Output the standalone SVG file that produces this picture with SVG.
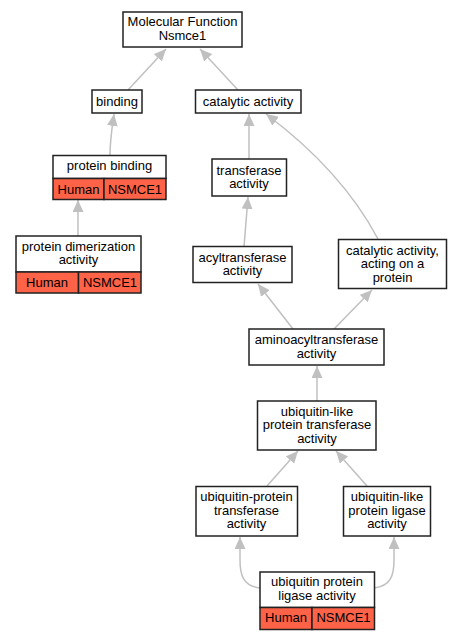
<svg xmlns="http://www.w3.org/2000/svg" width="461" height="640" viewBox="0 0 461 640">
<style>
.box{fill:#fff;stroke:#222;stroke-width:1.5}
.cell{fill:#ff6347;stroke:#222;stroke-width:1.5}
text{font-family:"Liberation Sans",Arial,sans-serif;font-size:13px;fill:#000;text-anchor:middle}
.edge{fill:none;stroke:#c0c0c0;stroke-width:1.5;marker-end:url(#arr)}
</style>
<defs>
<marker id="arr" markerUnits="userSpaceOnUse" markerWidth="13" markerHeight="11" refX="12" refY="5.5" orient="auto" viewBox="0 0 13 11">
<path d="M0,0 L12,5.5 L0,11 z" fill="#c0c0c0"/>
</marker>
</defs>
<rect width="461" height="640" fill="#fff"/>
<g id="edges">
<path class="edge" d="M128,90 L166,49"/>
<path class="edge" d="M238,90 L200,49"/>
<path class="edge" d="M110,155 C110,140 112,128 114,114"/>
<path class="edge" d="M249,159 L249,114"/>
<path class="edge" d="M378,239 C360,205 330,162 266,114"/>
<path class="edge" d="M244,247 L248,197"/>
<path class="edge" d="M78,236 L78,200"/>
<path class="edge" d="M293,329 L258,284"/>
<path class="edge" d="M334,329 L372,290"/>
<path class="edge" d="M317,401 L317,366"/>
<path class="edge" d="M267,486 L298,451"/>
<path class="edge" d="M367,486 L336,451"/>
<path class="edge" d="M260,588 C243,586 240,575 240,560 L240,537"/>
<path class="edge" d="M374,588 C391,586 394,575 394,560 L394,537"/>
</g>
<g id="mf">
<rect class="box" x="123" y="12" width="119" height="35"/>
<text x="182.5" y="26">Molecular Function</text>
<text x="182.5" y="39.5">Nsmce1</text>
</g>
<g id="binding">
<rect class="box" x="92" y="90" width="50" height="23"/>
<text x="117" y="106">binding</text>
</g>
<g id="catalytic">
<rect class="box" x="195.5" y="90" width="105.5" height="23"/>
<text x="248" y="106">catalytic activity</text>
</g>
<g id="protein-binding">
<rect class="box" x="53" y="155.5" width="113" height="23"/>
<rect class="cell" x="53" y="178.5" width="51" height="21"/>
<rect class="cell" x="104" y="178.5" width="62" height="21"/>
<text x="109.5" y="170">protein binding</text>
<text x="78.5" y="193.5">Human</text>
<text x="135" y="193.5">NSMCE1</text>
</g>
<g id="protein-dimerization">
<rect class="box" x="16" y="236" width="125" height="36"/>
<rect class="cell" x="16" y="272" width="62.5" height="21"/>
<rect class="cell" x="78.5" y="272" width="62.5" height="21"/>
<text x="78.5" y="251">protein dimerization</text>
<text x="78.5" y="264">activity</text>
<text x="47" y="286.5">Human</text>
<text x="110" y="286.5">NSMCE1</text>
</g>
<g id="transferase">
<rect class="box" x="212" y="159" width="74.5" height="37"/>
<text x="249" y="175">transferase</text>
<text x="249" y="188">activity</text>
</g>
<g id="acyltransferase">
<rect class="box" x="193" y="246.5" width="99" height="36"/>
<text x="242.5" y="262">acyltransferase</text>
<text x="242.5" y="275">activity</text>
</g>
<g id="catalytic-protein">
<rect class="box" x="338.5" y="239.5" width="108" height="49"/>
<text x="392.5" y="255">catalytic activity,</text>
<text x="392.5" y="268">acting on a</text>
<text x="392.5" y="281.5">protein</text>
</g>
<g id="aminoacyl">
<rect class="box" x="249" y="329" width="135" height="36"/>
<text x="316.5" y="344">aminoacyltransferase</text>
<text x="316.5" y="357.5">activity</text>
</g>
<g id="ubl-transferase">
<rect class="box" x="257.5" y="401" width="118.5" height="49"/>
<text x="317" y="415.5">ubiquitin-like</text>
<text x="317" y="429">protein transferase</text>
<text x="317" y="442.5">activity</text>
</g>
<g id="ub-protein-transferase">
<rect class="box" x="196" y="486.5" width="101.5" height="49.5"/>
<text x="246.5" y="501">ubiquitin-protein</text>
<text x="246.5" y="514.5">transferase</text>
<text x="246.5" y="527.5">activity</text>
</g>
<g id="ubl-ligase">
<rect class="box" x="343.5" y="486.5" width="87" height="49.5"/>
<text x="387" y="501">ubiquitin-like</text>
<text x="387" y="514.5">protein ligase</text>
<text x="387" y="527.5">activity</text>
</g>
<g id="ub-ligase">
<rect class="box" x="260" y="572" width="114.5" height="35.5"/>
<rect class="cell" x="260" y="607.5" width="52" height="22"/>
<rect class="cell" x="312" y="607.5" width="62.5" height="22"/>
<text x="317" y="586">ubiquitin protein</text>
<text x="317" y="599.5">ligase activity</text>
<text x="286" y="622">Human</text>
<text x="343.5" y="622">NSMCE1</text>
</g>
</svg>
